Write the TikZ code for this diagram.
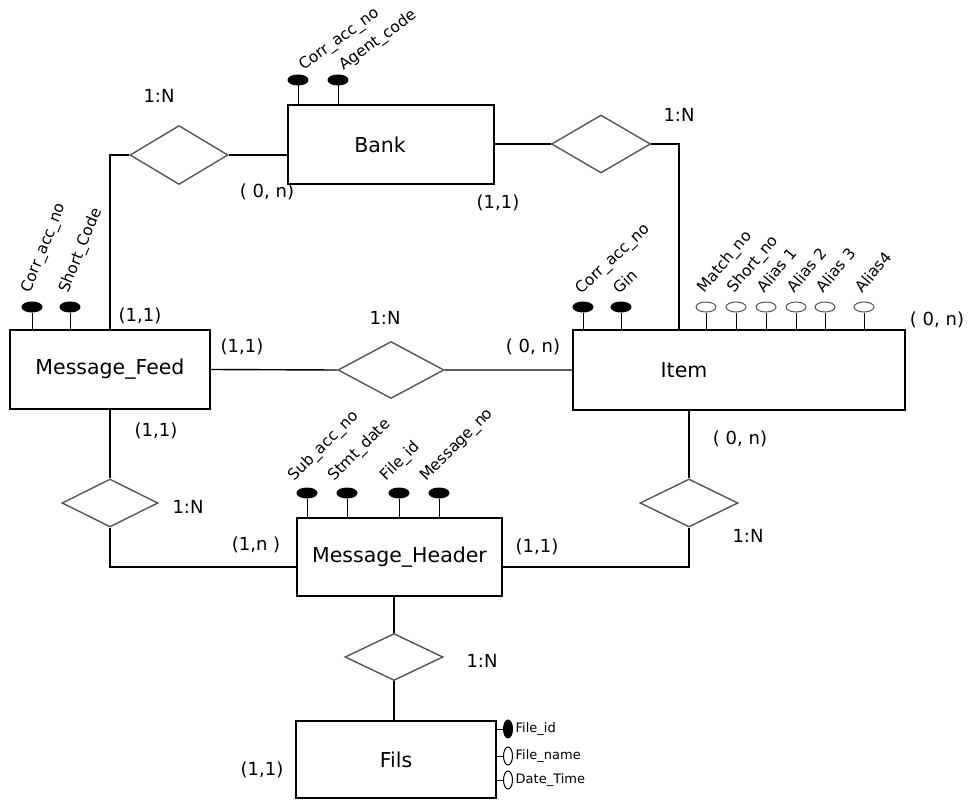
\documentclass[tikz,border=0pt]{standalone}
\usepackage{fontspec}
\setmainfont{DejaVu Sans}
\usetikzlibrary{positioning,shapes.geometric,calc}
\definecolor{RelGray}{RGB}{85,85,85}
\newcommand\entfont{\fontsize{20.5}{24}\selectfont}
\newcommand\cardfont{\fontsize{18}{22}\selectfont}
\newcommand\attfont{\fontsize{15.5}{18}\selectfont}

\begin{document}
\begin{tikzpicture}[x=1pt,y=-1pt,line width=1.4pt,
  entity/.style={draw,inner sep=0pt,font=\entfont},
  rel/.style={draw=RelGray,diamond,inner sep=0pt},
  card/.style={inner sep=0pt,font=\cardfont},
  keyatt/.style={draw,ellipse,fill=black,minimum width=20pt,minimum height=10pt,inner sep=0pt,line width=1pt},
  plainatt/.style={keyatt,fill=white,draw=RelGray},
  attname/.style={inner sep=0pt,anchor=base west,font=\attfont}]
\useasboundingbox (0,0) rectangle (968,805);
\node[entity,minimum width=206pt,minimum height=79pt] (bank) at (391,144.5) {};
\node[inner sep=0pt,font=\entfont] (bankname) at (380,145) {Bank};
\node[entity,minimum width=200pt,minimum height=79pt] (mf) at (110,369.5) {Message\_Feed};
\node[entity,minimum width=332pt,minimum height=80pt] (item) at (739,370) {};
\node[inner sep=0pt,font=\entfont] (itemname) at (684,370) {Item};
\node[entity,minimum width=205pt,minimum height=78pt] (mh) at (399.5,557) {Message\_Header};
\node[entity,minimum width=200pt,minimum height=77pt] (fils) at (396,759.5) {Fils};

\node[rel,minimum width=98pt,minimum height=59pt] (d1) at (179,155) {};
\node[rel,minimum width=99pt,minimum height=58pt] (d2) at (601,144) {};
\node[rel,minimum width=106pt,minimum height=57pt] (d3) at (391,370) {};
\node[rel,minimum width=96pt,minimum height=48pt] (d4) at (110,503) {};
\node[rel,minimum width=98pt,minimum height=48pt] (d5) at (689,503) {};
\node[rel,minimum width=98pt,minimum height=47pt] (d6) at (394,657) {};

\draw (d1.east) -- (d1.east -| bank.west);
\draw (d1.west) -| (mf.north);
\draw (bank.east |- d2.west) -- (d2.west);
\draw (d2.east) -| ([xshift=-60pt]item.north);
\draw (mf.east) -- (d3.west) (d3.east) -- (item.west);
\draw (mf.south) -- (d4.north);
\draw (d4.south) |- ([yshift=-10pt]mh.west);
\draw ([xshift=-50pt]item.south) -- (d5.north);
\draw (d5.south) |- ([yshift=-10pt]mh.east);
\draw (mh.south -| d6.north) -- (d6.north) (d6.south) -- (d6.south |- fils.north);

\node[card] (n1) at (159,96) {1:N};
\node[card] (n2) at (679,115) {1:N};
\node[card] (n3) at (385,318) {1:N};
\node[card] (n4) at (188,507) {1:N};
\node[card] (n5) at (748,536) {1:N};
\node[card] (n6) at (482,661) {1:N};
\node[card] (k1) at (267,192) {( 0, n)};
\node[card] (k2) at (498,203) {(1,1)};
\node[card] (k3) at (140,316) {(1,1)};
\node[card] (k4) at (242,347) {(1,1)};
\node[card] (k5) at (533,347) {( 0, n)};
\node[card] (k6) at (937,320) {( 0, n)};
\node[card] (k7) at (156,431) {(1,1)};
\node[card] (k8) at (256,545) {(1,n )};
\node[card] (k9) at (537,547) {(1,1)};
\node[card] (k10) at (740,439) {( 0, n)};
\node[card] (k11) at (262,770) {(1,1)};

\foreach \x/\t in {298/Corr\_acc\_no,338/Agent\_code}{
  \node[keyatt] (ba\x) at (\x,80) {};
  \draw[line width=1pt] (ba\x.south) -- (ba\x.south |- bank.north);
  \node[attname,rotate=36] (bl\x) at (\x+5,71) {\t};}
\foreach \x/\t in {32/Corr\_acc\_no,70/Short\_Code}{
  \node[keyatt] (ma\x) at (\x,307) {};
  \draw[line width=1pt] (ma\x.south) -- (ma\x.south |- mf.north);
  \node[attname,rotate=68] (ml\x) at (\x-2,294) {\t};}
\foreach \x/\t in {583/Corr\_acc\_no,621/Gin}{
  \node[keyatt] (ia\x) at (\x,307) {};
  \draw[line width=1pt] (ia\x.south) -- (ia\x.south |- item.north);
  \node[attname,rotate=43] (il\x) at (\x-2,295) {\t};}
\foreach \x/\t in {706/Match\_no,736/Short\_no,766/Alias 1,796/Alias 2,825/Alias 3,864/Alias4}{
  \node[plainatt] (ia\x) at (\x,307) {};
  \draw[line width=1pt] (ia\x.south) -- (ia\x.south |- item.north);
  \node[attname,rotate=50] (il\x) at (\x-2,294) {\t};}
\foreach \x/\t in {307/Sub\_acc\_no,347/Stmt\_date,399/File\_id,439/Message\_no}{
  \node[keyatt] (ha\x) at (\x,493) {};
  \draw[line width=1pt] (ha\x.south) -- (ha\x.south |- mh.north);
  \node[attname,rotate=45] (hl\x) at (\x-13,482) {\t};}
\foreach \y/\t/\f in {729/File\_id/black,756/File\_name/white,780/Date\_Time/white}{
  \node[draw,ellipse,fill=\f,minimum width=9pt,minimum height=18pt,inner sep=0pt,line width=1pt] (fa\y) at (508,\y) {};
  \draw[line width=1pt] (fa\y.west -| fils.east) -- (fa\y.west);
  \node[inner sep=0pt,anchor=west,font=\fontsize{13}{16}\selectfont] (fl\y) at (515,\y) {\t};}
\end{tikzpicture}
\end{document}
